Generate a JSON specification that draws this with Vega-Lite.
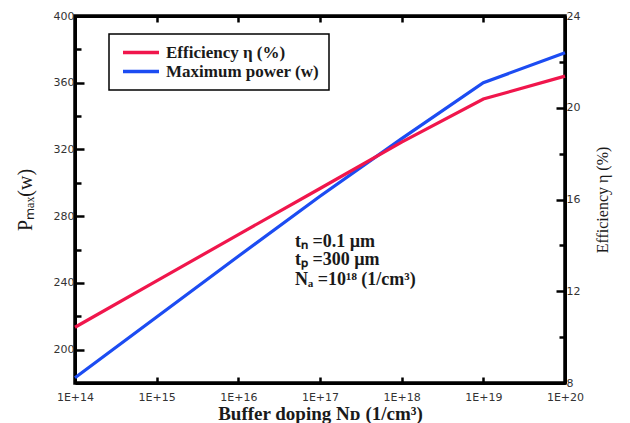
{
  "$schema": "https://vega.github.io/schema/vega-lite/v6.json",
  "width": 490,
  "height": 367,
  "autosize": {"type": "none"},
  "padding": {"left": 75, "top": 16, "right": 65, "bottom": 40},
  "background": "white",
  "config": {
    "view": {"stroke": "#000000", "strokeWidth": 3.5},
    "axis": {
      "domain": true,
      "domainColor": "#000000",
      "domainWidth": 3,
      "zindex": 1,
      "tickColor": "#000000",
      "tickWidth": 2.5,
      "grid": false,
      "labelFont": "DejaVu Sans",
      "labelFontSize": 11,
      "labelColor": "#333333",
      "titleFont": "Liberation Serif",
      "titleColor": "#1a1a1a",
      "titleFontWeight": "normal"
    },
    "legend": {
      "strokeColor": "black",
      "strokeWidth": 1.5,
      "padding": 10,
      "labelFont": "Liberation Serif",
      "labelFontSize": 17,
      "labelFontWeight": "bold",
      "labelColor": "#1a1a1a",
      "symbolType": "M-1,0H7",
      "symbolSize": 81,
      "symbolStrokeWidth": 3.5,
      "labelOffset": 30,
      "rowPadding": 1
    }
  },
  "datasets": {
    "curves": [
      {"nd": 1e14, "pmax": 183.2, "eff": 10.43},
      {"nd": 1e15, "pmax": 219.6, "eff": 12.45},
      {"nd": 1e16, "pmax": 256.0, "eff": 14.47},
      {"nd": 1e17, "pmax": 292.0, "eff": 16.48},
      {"nd": 1e18, "pmax": 326.5, "eff": 18.5},
      {"nd": 1e19, "pmax": 360.0, "eff": 20.38},
      {"nd": 1e20, "pmax": 378.0, "eff": 21.38}
    ],
    "notes": [
      {"nd": 4.94e16, "p": 264.3, "label": "tₙ =0.1 µm"},
      {"nd": 4.94e16, "p": 253.5, "label": "tₚ =300 µm"},
      {"nd": 4.94e16, "p": 241.9, "label": "Nₐ =10¹⁸ (1/cm³)"}
    ]
  },
  "layer": [
    {
      "data": {"name": "curves"},
      "mark": {"type": "line", "strokeWidth": 3.2},
      "encoding": {
        "x": {
          "field": "nd",
          "type": "quantitative",
          "scale": {"type": "log", "domain": [1e14, 1e20], "nice": false},
          "axis": {
            "orient": "bottom",
            "values": [1e14, 1e15, 1e16, 1e17, 1e18, 1e19, 1e20],
            "labelExpr": "'1E+' + round(log(datum.value)/LN10)",
            "tickSize": -6,
            "labelPadding": 14,
            "labelFlush": false,
            "title": "Buffer doping Nᴅ (1/cm³)",
            "titleFontSize": 19,
            "titleFontWeight": "bold",
            "titlePadding": 2
          }
        },
        "y": {
          "field": "pmax",
          "type": "quantitative",
          "scale": {"domain": [180, 400], "nice": false, "zero": false},
          "axis": {
            "orient": "left",
            "values": [200, 220, 240, 260, 280, 300, 320, 340, 360, 380, 400],
            "labelExpr": "datum.value % 40 === 0 ? datum.label : ''",
            "tickSize": {"condition": {"test": "datum.value % 40 === 0", "value": -9}, "value": -6},
            "labelPadding": 10,
            "title": "Pₘₐₓ(w)",
            "titleFontSize": 20,
            "titlePadding": 18
          }
        },
        "color": {
          "datum": "Maximum power (w)",
          "type": "nominal",
          "scale": {"domain": ["Efficiency η (%)", "Maximum power (w)"], "range": ["#f0164c", "#1c4cf2"]},
          "legend": {"title": null, "orient": "none", "legendX": 34, "legendY": 18}
        }
      }
    },
    {
      "data": {"name": "curves"},
      "mark": {"type": "line", "strokeWidth": 3.2},
      "encoding": {
        "x": {
          "field": "nd",
          "type": "quantitative",
          "scale": {"type": "log", "domain": [1e14, 1e20], "nice": false},
          "axis": {
            "orient": "top",
            "values": [1e14, 1e15, 1e16, 1e17, 1e18, 1e19, 1e20],
            "labels": false,
            "tickSize": -6,
            "title": null
          }
        },
        "y": {
          "field": "eff",
          "type": "quantitative",
          "scale": {"domain": [8, 24], "nice": false, "zero": false},
          "axis": {
            "orient": "right",
            "values": [8, 10, 12, 14, 16, 18, 20, 22, 24],
            "labelExpr": "datum.value % 4 === 0 ? datum.label : ''",
            "tickSize": {"condition": {"test": "datum.value % 4 === 0", "value": -9}, "value": -6},
            "labelPadding": 10,
            "title": "Efficiency η (%)",
            "titleFontSize": 16,
            "titleAngle": 270,
            "titlePadding": 31
          }
        },
        "color": {"datum": "Efficiency η (%)", "type": "nominal"}
      }
    },
    {
      "data": {"name": "notes"},
      "mark": {"type": "text", "align": "left", "baseline": "middle", "font": "Liberation Serif", "fontSize": 18, "fontWeight": "bold", "color": "#1a1a1a"},
      "encoding": {
        "x": {"field": "nd", "type": "quantitative", "scale": {"type": "log", "domain": [1e14, 1e20], "nice": false}, "axis": null},
        "y": {"field": "p", "type": "quantitative", "scale": {"domain": [180, 400], "nice": false, "zero": false}, "axis": null},
        "text": {"field": "label"}
      }
    }
  ],
  "resolve": {"scale": {"y": "independent"}, "axis": {"x": "independent"}}
}
